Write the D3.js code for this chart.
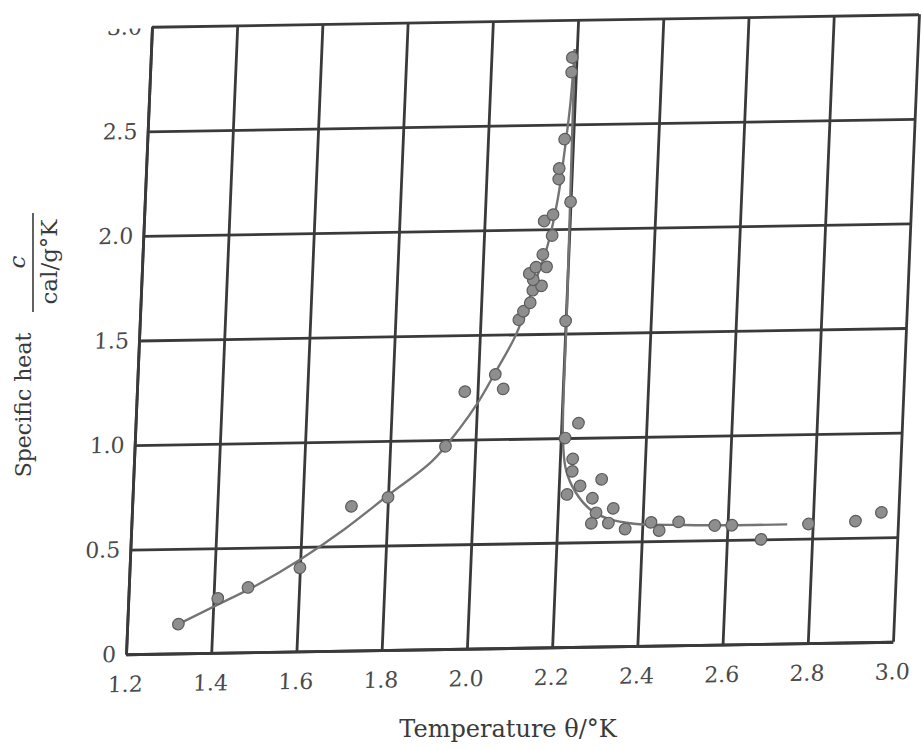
<!DOCTYPE html>
<html>
<head>
<meta charset="utf-8">
<script src="https://cdnjs.cloudflare.com/ajax/libs/d3/7.8.5/d3.min.js"></script>
<style>
  body { margin: 0; background: #fff; }
  .grid .domain { stroke: #3a3a3a; stroke-width: 2.8; }
  .grid line { stroke: #3a3a3a; stroke-width: 2.8; }
  .grid text { font-family: "DejaVu Serif", serif; font-size: 22px; fill: #4a4a4a; }
</style>
</head>
<body>
<div id="chart"></div>
<script>
var svgWidth = 921;
var svgHeight = 749;

// tick values of the two axes
var tempTicks = [1.2, 1.4, 1.6, 1.8, 2.0, 2.2, 2.4, 2.6, 2.8, 3.0];
var heatTicks = [0, 0.5, 1.0, 1.5, 2.0, 2.5, 3.0];

// measured points below the lambda point
var belowT = [1.32, 1.41, 1.48, 1.60, 1.715, 1.80, 1.93, 1.97, 2.06, 2.04, 2.09, 2.10, 2.115, 2.12, 2.14, 2.12, 2.11, 2.125, 2.15, 2.14, 2.16, 2.14, 2.16, 2.17, 2.17, 2.18, 2.19, 2.19];
var belowC = [0.14, 0.26, 0.31, 0.40, 0.69, 0.73, 0.97, 1.23, 1.24, 1.31, 1.57, 1.61, 1.65, 1.71, 1.73, 1.76, 1.79, 1.82, 1.82, 1.88, 1.97, 2.04, 2.07, 2.24, 2.29, 2.43, 2.75, 2.82];

// measured points above the lambda point
var aboveT = [2.20, 2.20, 2.21, 2.24, 2.23, 2.23, 2.25, 2.22, 2.30, 2.28, 2.29, 2.33, 2.28, 2.32, 2.36, 2.42, 2.44, 2.485, 2.57, 2.61, 2.68, 2.79, 2.90, 2.96];
var aboveC = [2.13, 1.56, 1.00, 1.07, 0.90, 0.84, 0.77, 0.73, 0.80, 0.71, 0.64, 0.66, 0.59, 0.59, 0.56, 0.59, 0.55, 0.59, 0.57, 0.57, 0.50, 0.57, 0.58, 0.62];

// drawn curves
var leftCurveT = [1.32, 1.4, 1.5, 1.6, 1.7, 1.8, 1.9, 1.96, 2.0, 2.04, 2.085, 2.12, 2.15, 2.17, 2.18, 2.19, 2.195];
var leftCurveC = [0.14, 0.22, 0.32, 0.44, 0.58, 0.74, 0.90, 1.05, 1.17, 1.32, 1.50, 1.72, 1.92, 2.15, 2.35, 2.60, 2.86];
var rightCurveT = [2.195, 2.198, 2.202, 2.205, 2.215, 2.24, 2.28, 2.32, 2.38, 2.5, 2.6, 2.74];
var rightCurveC = [2.86, 2.3, 1.6, 1.0, 0.85, 0.74, 0.65, 0.61, 0.585, 0.575, 0.57, 0.57];

var plotW = 767;
var plotH = 627.5;

var svg = d3.select("#chart")
  .append("svg")
  .attr("width", svgWidth)
  .attr("height", svgHeight);

// the scanned grid is a little sheared, so the plot sits in a skewed group
var plot = svg.append("g")
  .attr("transform", "matrix(1,-0.0163,-0.0414,1,152,26.75)");

var x = d3.scaleLinear().domain([1.2, 3.0]).range([0, plotW]);
var y = d3.scaleLinear().domain([0, 3.0]).range([plotH, 0]);

var fmt = function(d) { return d === 0 ? "0" : d.toFixed(1); };

var xAxis = plot.append("g")
  .attr("class", "grid")
  .attr("transform", `translate(0, ${plotH})`)
  .call(d3.axisBottom(x).tickValues(tempTicks).tickSize(-plotH).tickSizeOuter(0).tickPadding(22).tickFormat(fmt));

var yAxis = plot.append("g")
  .attr("class", "grid")
  .call(d3.axisLeft(y).tickValues(heatTicks).tickSize(-plotW).tickSizeOuter(0).tickPadding(10).tickFormat(fmt));

// top label is cut off in the scan
plot.append("clipPath").attr("id", "topcut")
  .append("rect").attr("x", -60).attr("y", 1).attr("width", 60).attr("height", 40);
yAxis.selectAll(".tick text")
  .filter(function(d) { return d === 3.0; })
  .attr("clip-path", "url(#topcut)");

var line = d3.line()
  .x(d => x(d[0]))
  .y(d => y(d[1]))
  .curve(d3.curveCatmullRom.alpha(0.5));

plot.append("path")
  .datum(leftCurveT.map((t, i) => [t, leftCurveC[i]]))
  .attr("d", line)
  .attr("fill", "none")
  .attr("stroke", "#747474")
  .attr("stroke-width", 2.4);

plot.append("path")
  .datum(rightCurveT.map((t, i) => [t, rightCurveC[i]]))
  .attr("d", line)
  .attr("fill", "none")
  .attr("stroke", "#747474")
  .attr("stroke-width", 2.4);

var pts = belowT.map((t, i) => [t, belowC[i]])
  .concat(aboveT.map((t, i) => [t, aboveC[i]]));

plot.append("g").selectAll("circle")
  .data(pts)
  .enter()
  .append("circle")
  .attr("cx", d => x(d[0]))
  .attr("cy", d => y(d[1]))
  .attr("r", 5.8)
  .attr("fill", "#8e8e8e")
  .attr("stroke", "#5c5c5c")
  .attr("stroke-width", 1.2);

// axis titles
svg.append("text")
  .attr("x", 508)
  .attr("y", 737)
  .attr("text-anchor", "middle")
  .attr("font-family", "DejaVu Serif, serif")
  .attr("font-size", 24)
  .attr("fill", "#3a3a3a")
  .text("Temperature θ/°K");

svg.append("text")
  .attr("transform", "translate(31, 405) rotate(-90)")
  .attr("text-anchor", "middle")
  .attr("font-family", "DejaVu Serif, serif")
  .attr("font-size", 22)
  .attr("fill", "#3a3a3a")
  .text("Specific heat");

svg.append("text")
  .attr("transform", "translate(25, 262) rotate(-90)")
  .attr("text-anchor", "middle")
  .attr("font-family", "DejaVu Serif, serif")
  .attr("font-style", "italic")
  .attr("font-size", 23)
  .attr("fill", "#3a3a3a")
  .text("c");

svg.append("line")
  .attr("x1", 33).attr("x2", 33)
  .attr("y1", 213).attr("y2", 312)
  .attr("stroke", "#3a3a3a")
  .attr("stroke-width", 1.6);

svg.append("text")
  .attr("transform", "translate(57, 262) rotate(-90)")
  .attr("text-anchor", "middle")
  .attr("font-family", "DejaVu Serif, serif")
  .attr("font-size", 23)
  .attr("fill", "#3a3a3a")
  .text("cal/g°K");
</script>
</body>
</html>
